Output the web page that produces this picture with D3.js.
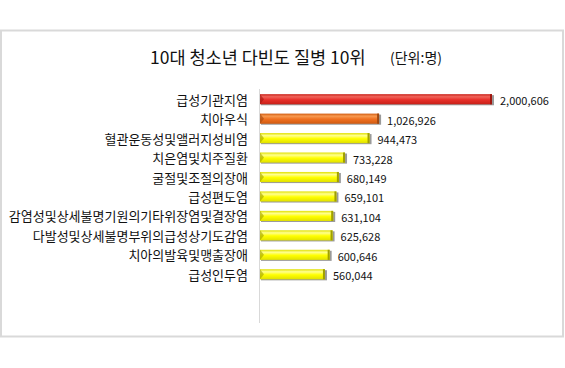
<!DOCTYPE html>
<html>
<head>
<meta charset="utf-8">
<script src="https://cdn.jsdelivr.net/npm/d3@7"></script>
<style>
  body { margin: 0; background: #fff; }
  text { font-family: "Noto Sans CJK KR", "Noto Sans", sans-serif; fill: #111; }
</style>
</head>
<body>
<div id="chart"></div>
<script>
var categories = ['급성기관지염', '치아우식', '혈관운동성및앨러지성비염', '치은염및치주질환', '굴절및조절의장애',
	'급성편도염', '감염성및상세불명기원의기타위장염및결장염', '다발성및상세불명부위의급성상기도감염', '치아의발육및맹출장애', '급성인두염'];
var values = [2000606, 1026926, 944473, 733228, 680149, 659101, 631104, 625628, 600646, 560044];
var barColors = ['red', 'orange', 'yellow', 'yellow', 'yellow', 'yellow', 'yellow', 'yellow', 'yellow', 'yellow'];

var W = 565, H = 368;
var svg = d3.select('#chart').append('svg').attr('width', W).attr('height', H);

var defs = svg.append('defs');
var palette = {
	red: { top: '#f0645a', mid: '#e8302a', bot: '#c82018', edge: '#a01810' },
	orange: { top: '#f89a50', mid: '#f07020', bot: '#d05a10', edge: '#a04810' },
	yellow: { top: '#ffff90', mid: '#ffff00', bot: '#e0e000', edge: '#a0a000' }
};
Object.keys(palette).forEach(function (k) {
	var g = defs.append('linearGradient').attr('id', 'grad-' + k).attr('x1', 0).attr('y1', 0).attr('x2', 0).attr('y2', 1);
	g.append('stop').attr('offset', '0%').attr('stop-color', palette[k].bot);
	g.append('stop').attr('offset', '25%').attr('stop-color', palette[k].top);
	g.append('stop').attr('offset', '55%').attr('stop-color', palette[k].mid);
	g.append('stop').attr('offset', '100%').attr('stop-color', palette[k].bot);
});

// outer frame
svg.append('rect').attr('x', 1).attr('y', 30.5).attr('width', 562).attr('height', 306)
	.attr('fill', '#fff').attr('stroke', '#d9d9d9').attr('stroke-width', 2);

// title
svg.append('text').attr('x', 150).attr('y', 64).attr('font-size', 17.5).text('10대 청소년 다빈도 질병 10위');
svg.append('text').attr('x', 390).attr('y', 63).attr('font-size', 14).text('(단위:명)');

var x0 = 260;
var x = d3.scaleLinear().domain([0, 2000606]).range([0, 232]);
var y = d3.scaleBand().domain(categories).range([89.5, 284]).paddingInner(0.48).paddingOuter(0.24);

// axis line
svg.append('line').attr('x1', x0 - 0.5).attr('x2', x0 - 0.5).attr('y1', 89).attr('y2', 323)
	.attr('stroke', '#d9d9d9').attr('stroke-width', 1);

var rows = svg.selectAll('g.row').data(categories).enter().append('g').attr('class', 'row');

rows.append('text')
	.attr('x', 248)
	.attr('y', function (d) { return y(d) + y.bandwidth() / 2; })
	.attr('dominant-baseline', 'central')
	.attr('text-anchor', 'end')
	.attr('font-size', 13)
	.text(function (d) { return d; });

// shadow
rows.append('rect')
	.attr('x', x0 + 1)
	.attr('y', function (d) { return y(d) + 1; })
	.attr('width', function (d, i) { return x(values[i]) + 1; })
	.attr('height', y.bandwidth())
	.attr('fill', '#9a9a9a');

rows.append('rect')
	.attr('x', x0)
	.attr('y', function (d) { return y(d); })
	.attr('width', function (d, i) { return x(values[i]); })
	.attr('height', y.bandwidth())
	.attr('fill', function (d, i) { return 'url(#grad-' + barColors[i] + ')'; });

// bevel edges
rows.append('rect')
	.attr('x', function (d, i) { return x0 + x(values[i]) - 2; })
	.attr('y', function (d) { return y(d); })
	.attr('width', 2)
	.attr('height', y.bandwidth())
	.attr('fill', function (d, i) { return palette[barColors[i]].edge; });
rows.append('path')
	.attr('d', function (d) {
		var yy = y(d), h = y.bandwidth();
		return 'M' + x0 + ',' + yy + 'L' + (x0 + 4) + ',' + (yy + h / 2) + 'L' + x0 + ',' + (yy + h) + 'Z';
	})
	.attr('fill', function (d, i) { return palette[barColors[i]].edge; })
	.attr('opacity', 0.6);

rows.append('text')
	.attr('x', function (d, i) { return x0 + x(values[i]) + 8; })
	.attr('y', function (d) { return y(d) + y.bandwidth() / 2 + 1; })
	.attr('dominant-baseline', 'central')
	.attr('font-size', 11)
	.text(function (d, i) { return d3.format(',')(values[i]); });
</script>
</body>
</html>
